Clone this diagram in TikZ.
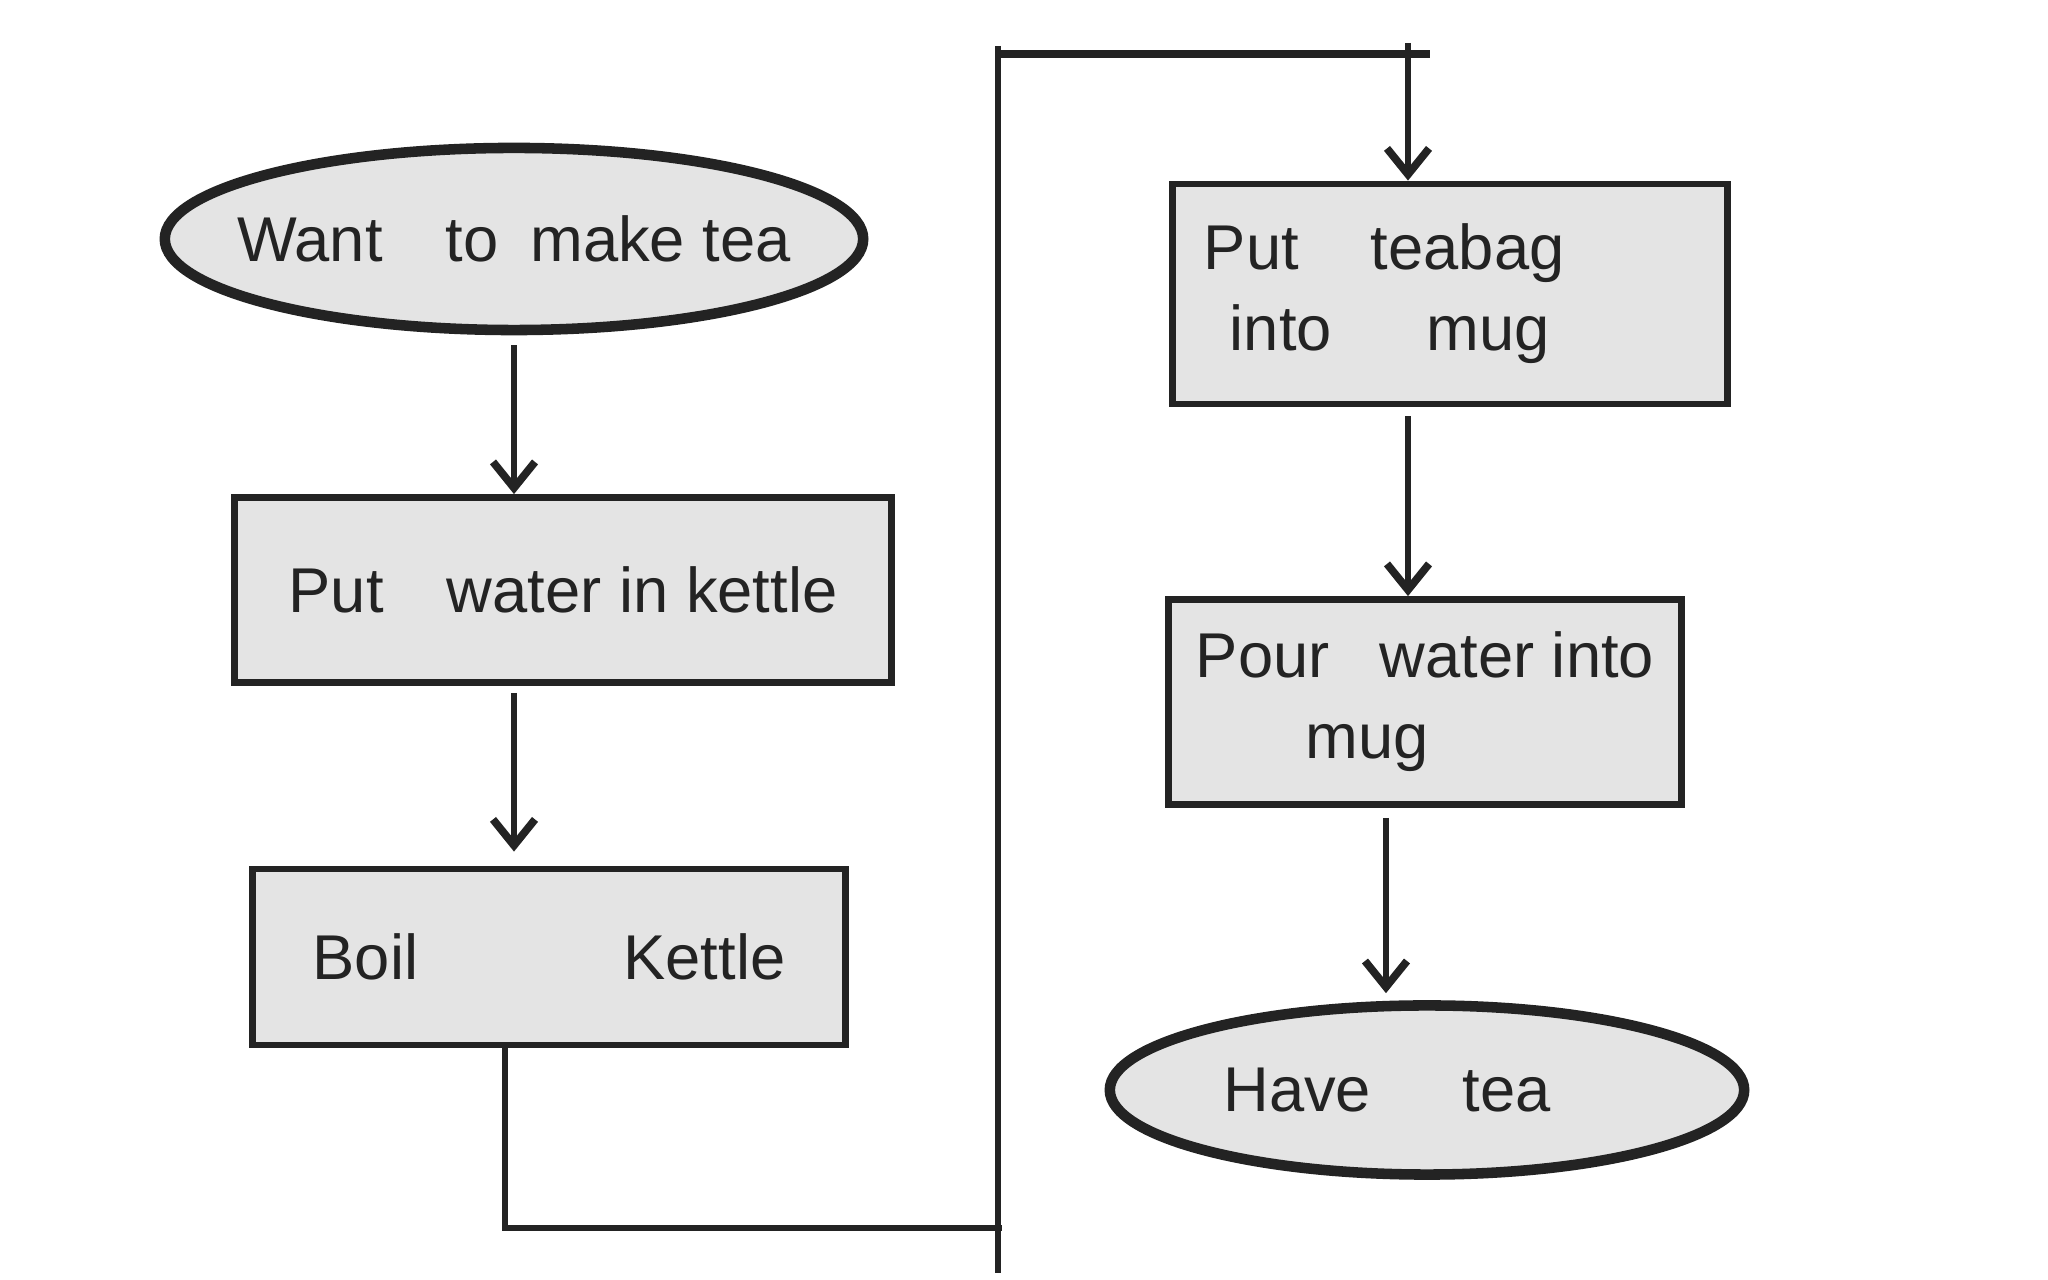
\documentclass[tikz,border=0pt]{standalone}
\usepackage{fontspec}
\setmainfont{Liberation Sans}
\usetikzlibrary{shapes.geometric,arrows.meta}
\definecolor{pen}{HTML}{232323}
\definecolor{paper}{HTML}{E4E4E4}

\begin{document}
\begin{tikzpicture}[x=0.01cm, y=-0.01cm,
    every node/.style={font=\fontsize{18}{23}\selectfont, text=pen},
    terminal/.style={ellipse, draw=pen, fill=paper, line width=3pt, inner sep=0pt},
    process/.style={rectangle, draw=pen, fill=paper, line width=1.9pt, align=left},
    flow/.style={draw=pen, line width=1.5pt, -{Straight Barb[length=2.6mm, width=4.2mm, line width=2.2pt]}},
    wire/.style={draw=pen, line width=1.9pt}]

\useasboundingbox (0,0) rectangle (2048,1280);

% left column
\node[terminal, minimum width=6.98cm, minimum height=1.82cm,
      label={center:Want\quad to\enspace make tea}] (want) at (514,239) {};
\node[process, minimum width=6.56cm, minimum height=1.85cm] (fill) at (563,590)
      {Put\quad water in kettle};
\node[process, minimum width=5.93cm, minimum height=1.76cm] (boil) at (549,957)
      {Boil\hspace{2.05cm}Kettle};

% right column
\node[process, minimum width=5.55cm, minimum height=2.2cm, text width=4.92cm] (teabag) at (1450,294)
      {Put\hspace{0.72cm}teabag\\\hspace{0.26cm}into\hspace{0.95cm}mug};
\node[process, minimum width=5.13cm, minimum height=2.05cm] (pour) at (1425,702)
      {Pour\hspace{0.5cm}water into\\\hspace{1.1cm}mug};
\node[terminal, minimum width=6.34cm, minimum height=1.69cm,
      label={[xshift=-0.4cm]center:Have\quad\, tea}] (have) at (1427,1090) {};

% the long way round
\coordinate (turnL) at (505,1228);
\coordinate (turnR) at (1002,1228);
\coordinate (spineT) at (998,46);
\coordinate (spineB) at (998,1273);
\coordinate (topR) at (1430,54);
\coordinate (drop) at (1408,43);
\coordinate (pourout) at ([xshift=-0.39cm]pour.south);

\draw[flow, shorten <=0.1cm] (want.south) -- (want.south |- fill.north);
\draw[flow, shorten <=0.07cm, shorten >=0.14cm] (fill.south -| want.south) -- (boil.north -| want.south);
\draw[wire] (boil.south -| turnL) -- (turnL) -- (turnR);
\draw[wire] (spineT) -- (spineB);
\draw[wire, line width=2.2pt] (spineT |- topR) -- (topR);
\draw[flow] (drop) -- (drop |- teabag.north);
\draw[flow, shorten <=0.09cm] (teabag.south -| drop) -- (pour.north -| drop);
\draw[flow, shorten <=0.1cm, shorten >=0.07cm] (pourout) -- (pourout |- have.north);

\end{tikzpicture}
\end{document}
